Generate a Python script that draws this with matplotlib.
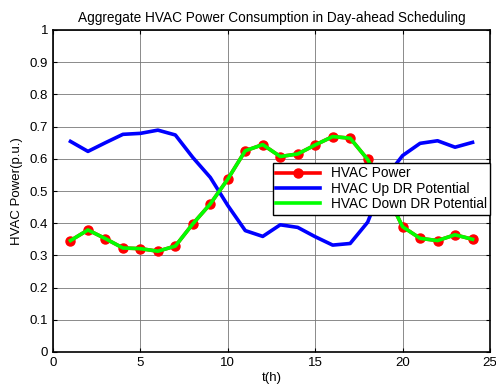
import matplotlib
matplotlib.use("Agg")
import matplotlib.pyplot as plt

hours = list(range(1, 25))
hvac_power = [0.346, 0.379, 0.352, 0.323, 0.321, 0.313, 0.329, 0.398, 0.460, 0.537,
              0.625, 0.644, 0.607, 0.615, 0.643, 0.669, 0.664, 0.598, 0.500, 0.389,
              0.353, 0.346, 0.364, 0.350]
up_dr = [0.654, 0.623, 0.650, 0.676, 0.679, 0.689, 0.674, 0.604, 0.542, 0.455,
         0.377, 0.359, 0.395, 0.387, 0.358, 0.332, 0.337, 0.403, 0.540, 0.610,
         0.648, 0.656, 0.636, 0.651]
down_dr = list(hvac_power)

plt.rcParams['font.family'] = ['Liberation Sans', 'DejaVu Sans']

fig = plt.figure(figsize=(4.96, 3.85), dpi=100)
ax = fig.add_axes([53/496, 1 - 352/385, (490-53)/496, (352-30)/385])

ax.plot(hours, hvac_power, color='#ff0000', lw=2.6, marker='o', ms=6.5,
        markerfacecolor='#ff0000', markeredgecolor='#ff0000', label='HVAC Power', zorder=3)
ax.plot(hours, up_dr, color='#0000ff', lw=2.6, label='HVAC Up DR Potential', zorder=3)
ax.plot(hours, down_dr, color='#00ff00', lw=2.6, label='HVAC Down DR Potential', zorder=4)

ax.set_xlim(0, 25)
ax.set_ylim(0, 1)
ax.set_xticks([0, 5, 10, 15, 20, 25])
ax.set_yticks([0, 0.1, 0.2, 0.3, 0.4, 0.5, 0.6, 0.7, 0.8, 0.9, 1])
ax.set_yticklabels(['0', '0.1', '0.2', '0.3', '0.4', '0.5', '0.6', '0.7', '0.8', '0.9', '1'])
ax.grid(True, color='#777777', lw=0.6, ls='-')
ax.tick_params(direction='in', length=3, labelsize=9.5, top=True, right=True, colors='black')
for s in ax.spines.values():
    s.set_linewidth(1.2)

ax.set_title('Aggregate HVAC Power Consumption in Day-ahead Scheduling', fontsize=9.8, pad=6)
ax.set_xlabel('t(h)', fontsize=9.5, labelpad=2)
ax.set_ylabel('HVAC Power(p.u.)', fontsize=9.5, labelpad=5)

leg = ax.legend(loc='upper left', bbox_to_anchor=((273-53)/437, (352-163)/322),
                fontsize=9.8, frameon=True, fancybox=False, edgecolor='black',
                framealpha=1, borderpad=0.25, labelspacing=0.1, handlelength=3.2,
                borderaxespad=0)
leg.get_frame().set_linewidth(1.0)
leg.set_zorder(10)

fig.savefig('out.png', dpi=100)
